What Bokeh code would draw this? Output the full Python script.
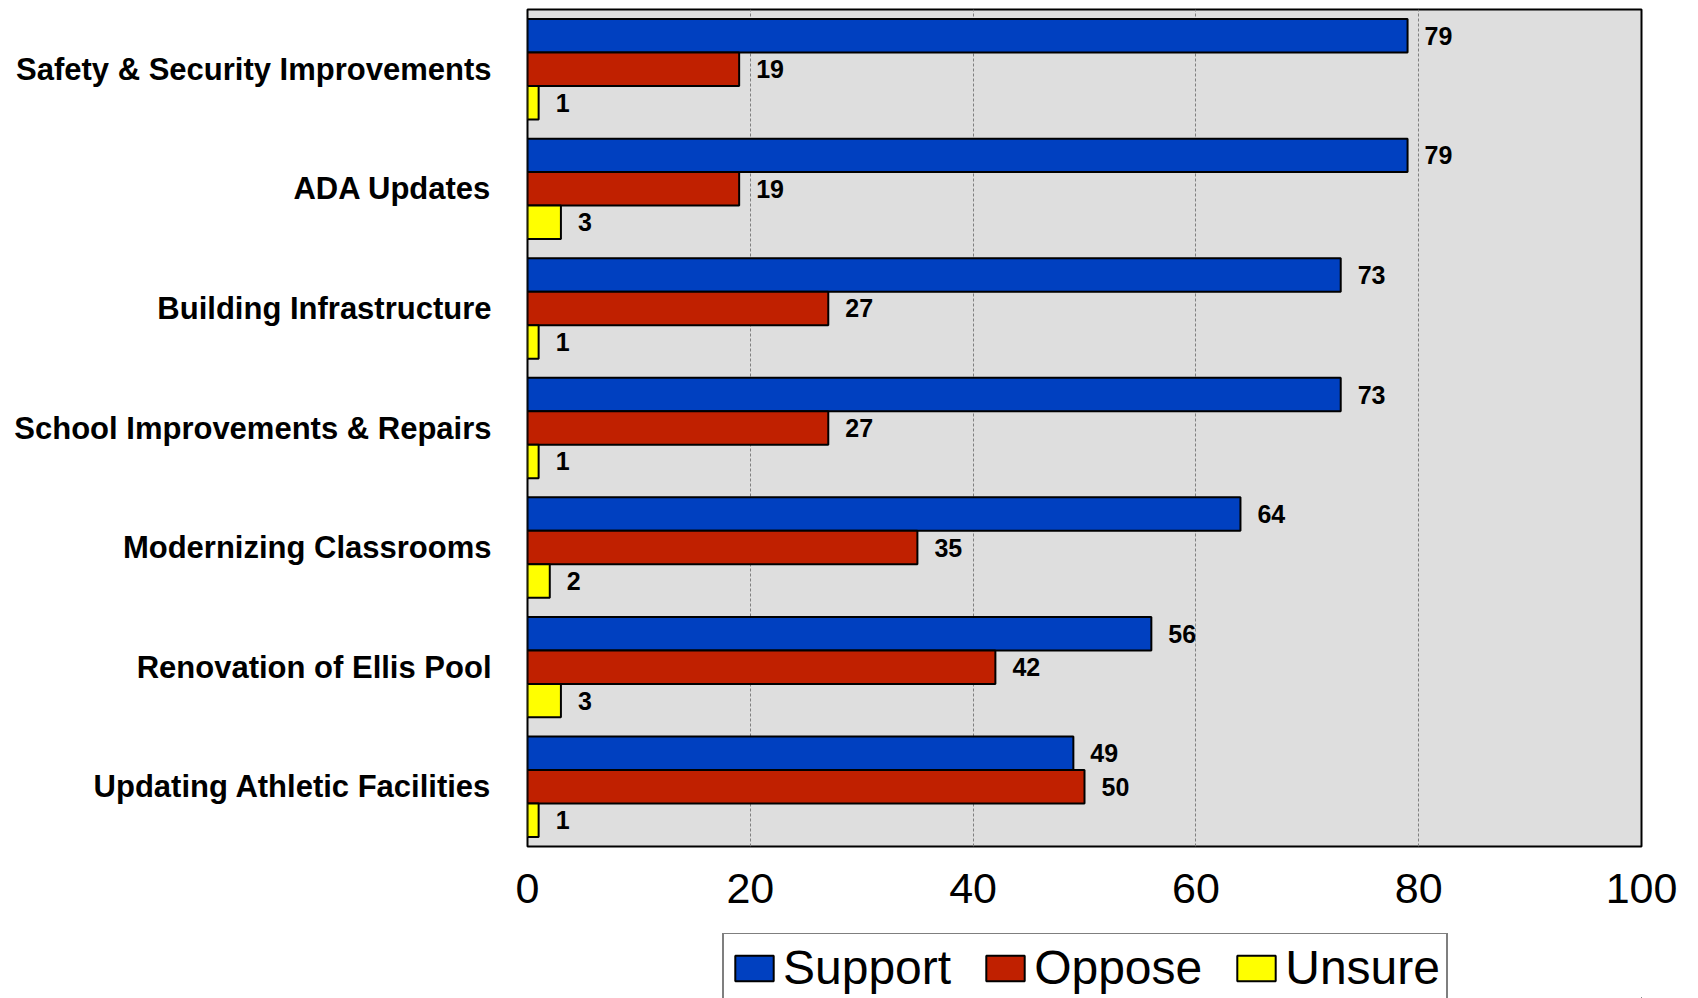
from bokeh.plotting import figure
from bokeh.layouts import column
from bokeh.models import (ColumnDataSource, Range1d, FactorRange, FixedTicker, LabelSet,
                          Legend, LegendItem)
from bokeh.core.properties import value
from bokeh.transform import dodge
from bokeh.embed import file_html
from bokeh.resources import INLINE

categories = [
    "Safety & Security Improvements",
    "ADA Updates",
    "Building Infrastructure",
    "School Improvements & Repairs",
    "Modernizing Classrooms",
    "Renovation of Ellis Pool",
    "Updating Athletic Facilities",
]
support = [79, 79, 73, 73, 64, 56, 49]
oppose = [19, 19, 27, 27, 35, 42, 50]
unsure = [1, 3, 1, 1, 2, 3, 1]
x_ticks = [0, 20, 40, 60, 80, 100]
series_names = ["Support", "Oppose", "Unsure"]
colors = ["#0040C0", "#C02000", "#FFFF00"]

FONT = "Liberation Sans"

src = ColumnDataSource(dict(
    cat=categories, support=support, oppose=oppose, unsure=unsure,
    support_t=[str(v) for v in support],
    oppose_t=[str(v) for v in oppose],
    unsure_t=[str(v) for v in unsure],
))

p = figure(width=1698, height=933, output_backend="svg", toolbar_location=None,
           y_range=FactorRange(*reversed(categories)), x_range=Range1d(0, 100),
           min_border_left=527, min_border_right=57, min_border_top=9, min_border_bottom=87)

p.background_fill_color = "#DEDEDE"
p.border_fill_color = "white"
p.outline_line_color = "black"
p.outline_line_width = 2

bar_h = 0.28
offsets = [bar_h, 0.0, -bar_h]
cols = ["support", "oppose", "unsure"]
for col, off, c in zip(cols, offsets, colors):
    p.hbar(y=dodge("cat", off, range=p.y_range), right=col, left=0, height=bar_h,
           source=src, fill_color=c, line_color="black", line_width=2)
    labels = LabelSet(x=col, y=dodge("cat", off, range=p.y_range), text=col + "_t",
                      source=src, x_offset=17, text_baseline="middle", text_align="left",
                      text_font=value(FONT), text_font_size=value("25px"),
                      text_font_style=value("bold"), text_color=value("black"))
    p.add_layout(labels)

p.xaxis.ticker = FixedTicker(ticks=x_ticks)
p.xaxis.axis_line_color = None
p.xaxis.major_tick_line_color = None
p.xaxis.minor_tick_line_color = None
p.xaxis.major_tick_out = 0
p.xaxis.major_tick_in = 0
p.xaxis.major_label_text_font = FONT
p.xaxis.major_label_text_font_size = "43px"
p.xaxis.major_label_text_color = "black"
p.xaxis.major_label_standoff = 27

p.yaxis.axis_line_color = None
p.yaxis.major_tick_line_color = None
p.yaxis.minor_tick_line_color = None
p.yaxis.major_tick_out = 0
p.yaxis.major_tick_in = 0
p.yaxis.major_label_text_font = FONT
p.yaxis.major_label_text_font_size = "31px"
p.yaxis.major_label_text_font_style = "bold"
p.yaxis.major_label_text_color = "black"
p.yaxis.major_label_standoff = 36

p.ygrid.grid_line_color = None
p.xgrid.grid_line_color = "#808080"
p.xgrid.grid_line_dash = "3 2"
p.xgrid.grid_line_width = 1

# Legend strip below the chart (its frame is aligned with the chart's frame)
lf = figure(width=1698, height=65, output_backend="svg", toolbar_location=None,
            x_axis_type=None, y_axis_type=None, x_range=Range1d(0, 1), y_range=Range1d(0, 1),
            min_border=0)
lf.outline_line_color = None
lf.xgrid.grid_line_color = None
lf.ygrid.grid_line_color = None
lf.background_fill_color = "white"
leg_renderers = []
for c in colors:
    # one off-screen bar per series so that the legend has a swatch to draw
    r = lf.hbar(y=[-10], right=[6], left=5, height=0.5, fill_color=c,
                line_color="black", line_width=2)
    leg_renderers.append(r)

legend = Legend(items=[LegendItem(label=n, renderers=[r]) for n, r in zip(series_names, leg_renderers)],
                orientation="horizontal", location=(195, -5),
                glyph_width=48, glyph_height=32, label_standoff=5, spacing=30,
                padding=6, margin=0,
                label_text_font=FONT, label_text_font_size="48px", label_text_color="black",
                border_line_color="black", border_line_width=2,
                background_fill_color="white", background_fill_alpha=1)
lf.add_layout(legend, "center")

layout = column(p, lf, spacing=0)
open("out.html", "w").write(file_html(layout, INLINE))
